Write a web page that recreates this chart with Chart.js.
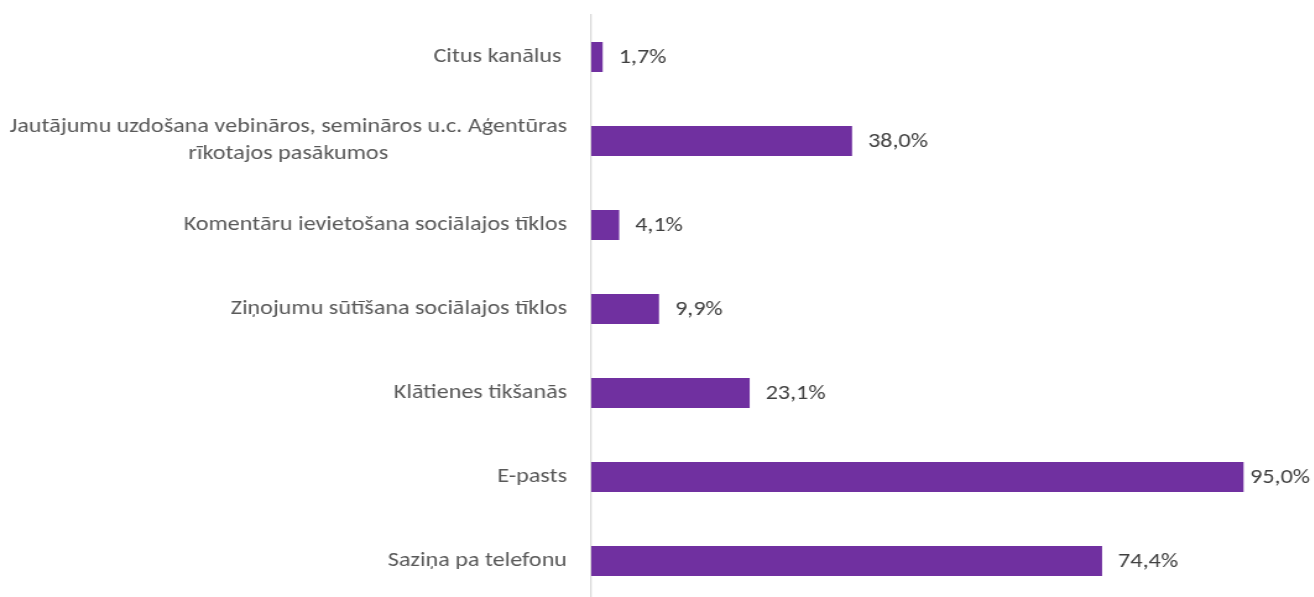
<!DOCTYPE html>
<html>
<head>
<meta charset="utf-8">
<script src="https://cdn.jsdelivr.net/npm/chart.js@4"></script>
<style>
html,body{margin:0;padding:0;background:#fff;overflow:hidden;width:1314px;height:597px;}
#wrap{position:relative;height:603px;transform-origin:0 0;}
</style>
</head>
<body>
<div id="wrap"><canvas id="c"></canvas></div>
<script>
const categories = [
  "Citus kanālus ",
  ["Jautājumu uzdošana vebināros, semināros u.c. Aģentūras", "rīkotajos pasākumos"],
  "Komentāru ievietošana sociālajos tīklos",
  "Ziņojumu sūtīšana sociālajos tīklos",
  "Klātienes tikšanās",
  "E-pasts",
  "Saziņa pa telefonu"
];
const values = [1.7, 38.0, 4.1, 9.9, 23.1, 95.0, 74.4];
const valueLabels = ["1,7%", "38,0%", "4,1%", "9,9%", "23,1%", "95,0%", "74,4%"];

const K = 1.237;
const W = 1314 / K;
const FSIZE = 19.5;
const LINE_H = 27;
const FONT = "Carlito, Calibri, Lato, 'Open Sans', sans-serif";

const wrap = document.getElementById('wrap');
wrap.style.width = W + 'px';
wrap.style.transform = 'scaleX(' + K + ')';

const labelPlugin = {
  id: 'valueLabels',
  afterDatasetsDraw(chart) {
    const ctx = chart.ctx;
    const meta = chart.getDatasetMeta(0);
    const yScale = chart.scales.y;
    ctx.save();
    ctx.font = FSIZE + "px " + FONT;
    ctx.textBaseline = "middle";
    // value labels
    ctx.fillStyle = "#404040";
    ctx.textAlign = "left";
    meta.data.forEach((bar, i) => {
      const t = valueLabels[i];
      const w = ctx.measureText(t).width;
      let x = bar.x + 16 / K;
      x = Math.min(x, 1310 / K - w);
      ctx.fillText(t, x, bar.y + 1);
    });
    // category labels: block right-aligned, lines centered within block
    ctx.fillStyle = "#595959";
    ctx.textAlign = "center";
    const right = yScale.right - 24 / K;
    categories.forEach((lab, i) => {
      const lines = Array.isArray(lab) ? lab : [lab];
      const maxW = Math.max(...lines.map(l => ctx.measureText(l).width));
      const cx = right - maxW / 2;
      const yc = yScale.getPixelForTick(i);
      const y0 = yc - (lines.length - 1) * LINE_H / 2;
      lines.forEach((l, j) => ctx.fillText(l, cx, y0 + j * LINE_H));
    });
    ctx.restore();
  }
};

new Chart(document.getElementById('c'), {
  type: 'bar',
  data: {
    labels: categories,
    datasets: [{
      data: values,
      backgroundColor: '#7030A0',
      borderWidth: 0,
      barPercentage: 1,
      categoryPercentage: 30/84
    }]
  },
  options: {
    indexAxis: 'y',
    responsive: true,
    maintainAspectRatio: false,
    animation: false,
    layout: { padding: { top: 15, right: (1314 - 1278) / K, bottom: 0, left: 0 } },
    plugins: { legend: { display: false }, tooltip: { enabled: false } },
    scales: {
      x: { display: false, min: 0, max: 100 },
      y: {
        grid: { display: false, drawTicks: false },
        border: { display: true, color: '#d9d9d9', width: 1.3 },
        ticks: { display: false },
        afterFit(scale) {
          scale.width = 591 / K;
          scale.paddingTop = 0;
          scale.paddingBottom = 0;
        }
      }
    }
  },
  plugins: [labelPlugin]
});
</script>
</body>
</html>
